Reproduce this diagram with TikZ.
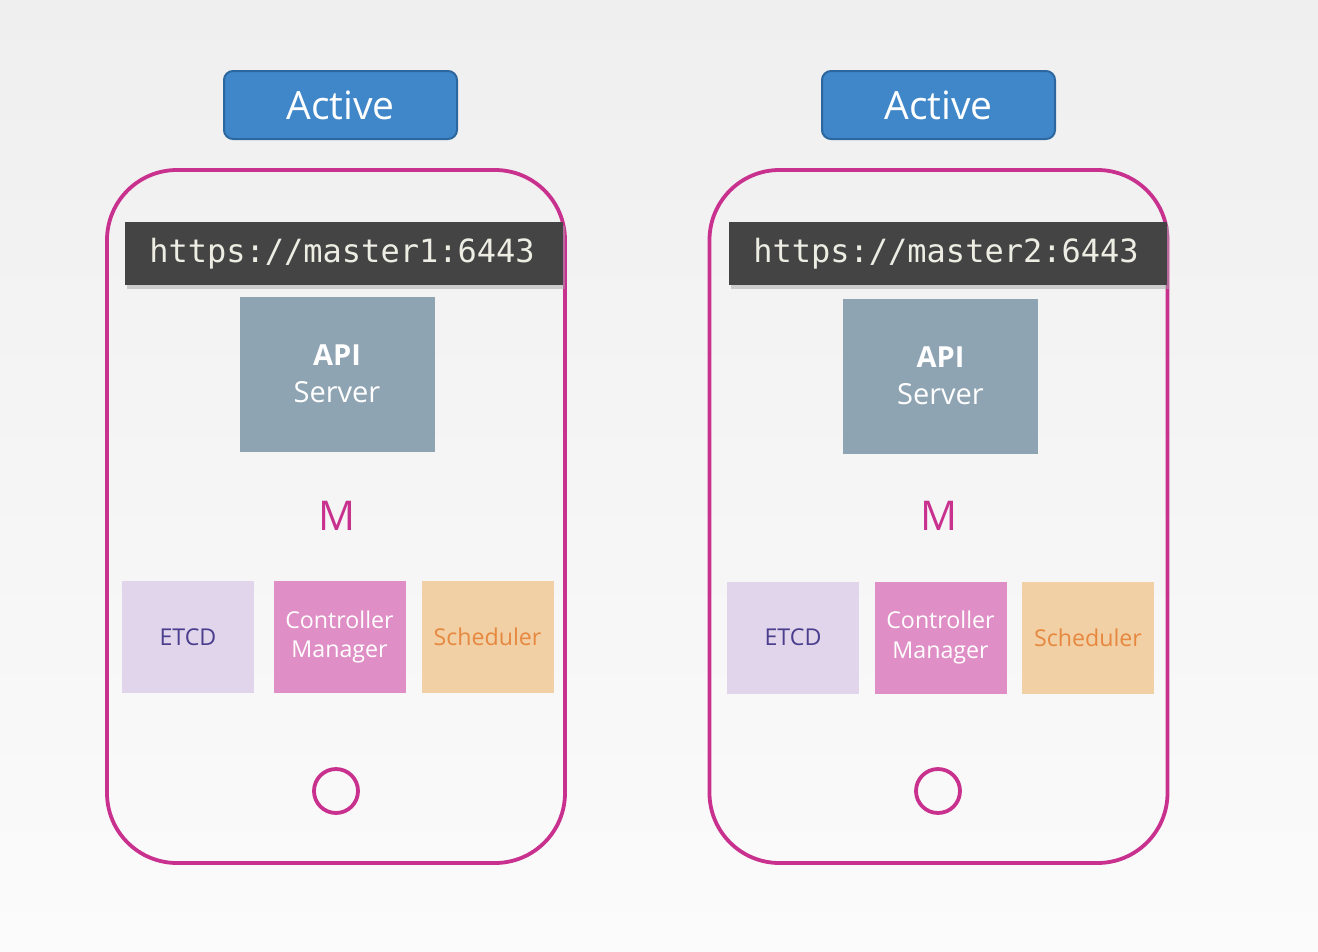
\documentclass[tikz,border=0pt]{standalone}
\usepackage{fontspec}
\setmainfont{Open Sans}
\newfontfamily\urlfont{DejaVu Sans Mono}
\usetikzlibrary{shadows}
\definecolor{bgtop}{HTML}{EFEFEF}
\definecolor{bgbot}{HTML}{FBFBFB}
\definecolor{activefill}{HTML}{3F87C9}
\definecolor{activedraw}{HTML}{2C679F}
\definecolor{phonecol}{HTML}{C9318F}
\definecolor{urlfill}{HTML}{444444}
\definecolor{urltext}{HTML}{EDEDE4}
\definecolor{apifill}{HTML}{8FA4B3}
\definecolor{etcdfill}{HTML}{E0D5EA}
\definecolor{etcdtext}{HTML}{4B3E8E}
\definecolor{cmfill}{HTML}{E08FC6}
\definecolor{schedfill}{HTML}{F2D0A5}
\definecolor{schedtext}{HTML}{E6883F}
\tikzset{
  activebox/.style={draw=activedraw, line width=2pt, fill=activefill, rounded corners=9pt,
    minimum width=233pt, minimum height=68pt, inner sep=0pt, text=white, font=\fontsize{39}{41}\selectfont},
  phone/.style={draw=phonecol, line width=3.8pt, rounded corners=70pt,
    minimum width=458pt, minimum height=693pt, inner sep=0pt},
  urlbar/.style={fill=urlfill, minimum width=438pt, minimum height=63pt, inner sep=0pt,
    text=urltext, font=\urlfont\fontsize{32}{34}\selectfont,
    drop shadow={shadow xshift=2pt, shadow yshift=-4pt, fill=black!35}},
  urltxt/.style={text=urltext, font=\urlfont\fontsize{32}{34}\selectfont, inner sep=0pt},
  apibox/.style={fill=apifill, minimum width=195pt, minimum height=155pt, inner sep=0pt,
    text=white, align=center, font=\fontsize{29}{37}\selectfont},
  mlabel/.style={text=phonecol, font=\fontsize{41}{41}\selectfont, inner sep=0pt},
  compbox/.style={minimum width=132pt, minimum height=112pt, inner sep=0pt, align=center,
    font=\fontsize{23.2}{29.5}\selectfont},
  etcdbox/.style={compbox, fill=etcdfill, text=etcdtext},
  cmbox/.style={compbox, fill=cmfill, text=white},
  schedbox/.style={compbox, fill=schedfill, text=schedtext},
  homebtn/.style={circle, draw=phonecol, line width=3.8pt, minimum size=44pt, inner sep=0pt}
}
\begin{document}
\begin{tikzpicture}[x=1pt,y=-1pt]
\shade[top color=bgtop, bottom color=bgbot] (0,0) rectangle (1318,951);
\useasboundingbox (0,0) rectangle (1318,951);
% left
\node[activebox] (act1) at (340.5,105) {Active};
\node[phone] (ph1) at (336,516.5) {};
\node[urlbar] (url1) at (344,253.5) {};
\node[urltxt] (u1) at (342,253.5) {https://master1:6443};
\node[apibox] (api1) at (337,374) {\textbf{API}\\Server};
\node[mlabel] (m1) at (337,516) {M};
\node[etcdbox] (etcd1) at (188,637) {ETCD};
\node[cmbox] (cm1) at (339.5,637) {Controller\\Manager};
\node[schedbox] (sch1) at (487.5,637) {Scheduler};
\node[homebtn] (btn1) at (336,791) {};
% right
\node[activebox] (act2) at (938.5,105) {Active};
\node[phone] (ph2) at (938.5,516.5) {};
\node[urlbar] (url2) at (948,253.5) {};
\node[urltxt] (u2) at (946,253.5) {https://master2:6443};
\node[apibox] (api2) at (940.5,376) {\textbf{API}\\Server};
\node[mlabel] (m2) at (939,516) {M};
\node[etcdbox] (etcd2) at (793,637.5) {ETCD};
\node[cmbox] (cm2) at (940.5,637.5) {Controller\\Manager};
\node[schedbox] (sch2) at (1088,638) {Scheduler};
\node[homebtn] (btn2) at (938,791) {};
\end{tikzpicture}
\end{document}
